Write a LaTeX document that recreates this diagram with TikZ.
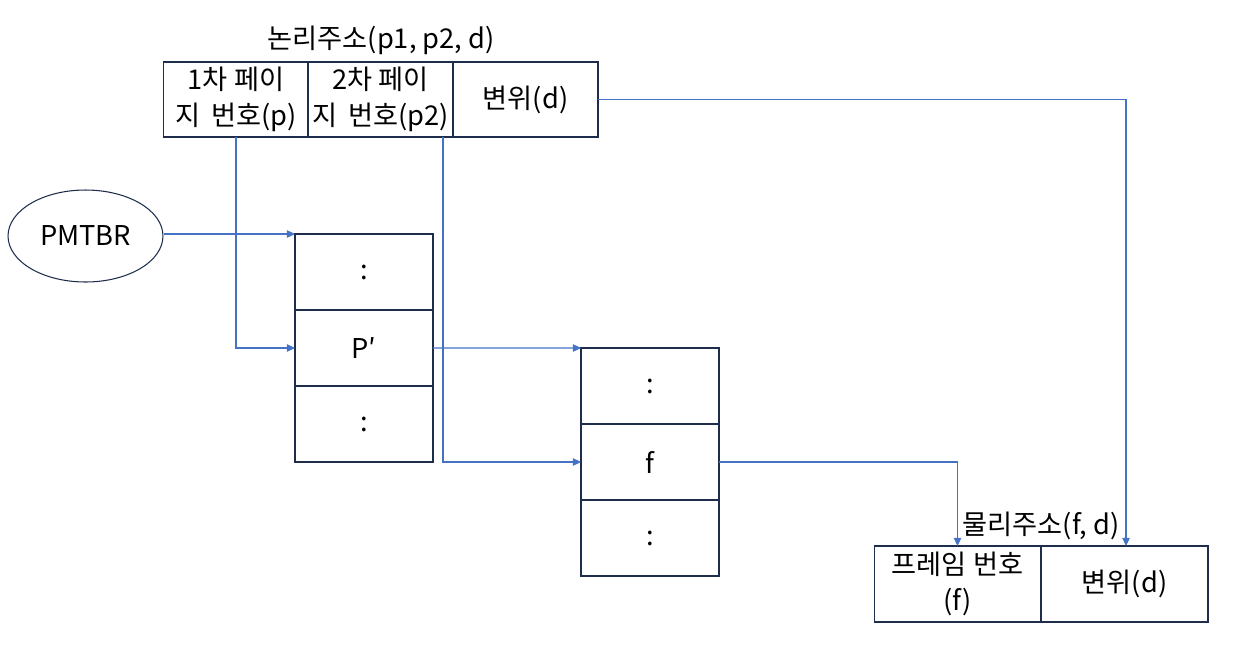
\documentclass[tikz,border=0pt]{standalone}
\usepackage{fontspec}
\setmainfont{Noto Sans CJK KR}
\usetikzlibrary{arrows.meta,shapes.geometric}
\definecolor{boxc}{RGB}{30,45,75}
\definecolor{arrc}{RGB}{68,114,196}
\tikzset{
  cell/.style={draw=boxc,line width=0.6pt,inner sep=0pt,outer sep=0pt,align=center,
    minimum width=#1,minimum height=1.52cm},
  cell/.default=2.76cm,
  arr/.style={draw=arrc,line width=0.6pt,-{Triangle[length=4.6pt,width=4.2pt]}},
  txt/.style={font=\fontsize{15.5}{20.5}\selectfont}
}
\begin{document}
\begin{tikzpicture}[x=0.02cm,y=-0.02cm,every node/.style={txt}]
\useasboundingbox (0,0) rectangle (1246,670);
% logical address
\node[cell=2.9cm,minimum height=1.5cm] (b1) at (236,99.5) {1차 페이\\지\hspace{0.4em}번호(p)};
\node[cell=2.9cm,minimum height=1.5cm] (b2) at (380.5,99.5) {2차 페이\\지\hspace{0.4em}번호(p2)};
\node[cell=2.9cm,minimum height=1.5cm] (b3) at (525.5,99.5) {변위(d)};
\node (lt) at (381,40) {논리주소(p1, p2, d)};
% PMTBR
\node[draw=boxc,line width=0.6pt,ellipse,minimum width=3.1cm,minimum height=1.84cm,inner sep=0pt] (pm) at (85.5,236) {PMTBR};
% table 1
\node[cell] (t1a) at (364,272) {:};
\node[cell] (t1b) at (364,348) {P′};
\node[cell] (t1c) at (364,424) {:};
% table 2
\node[cell] (t2a) at (650,386) {:};
\node[cell] (t2b) at (650,462) {f};
\node[cell] (t2c) at (650,538) {:};
% physical address
\node[cell=3.34cm] (c1) at (957.5,584) {프레임 번호\\(f)};
\node[cell=3.34cm] (c2) at (1124.5,584) {변위(d)};
\node (pt) at (1041,526) {물리주소(f, d)};
% connectors
\draw[arr] (b1.south) |- (t1b.west);
\draw[arr] ([xshift=-0.2cm]b2.south east) |- (t2b.west);
\draw[arr] (b3.east) -| ([xshift=0.03cm]c2.north);
\draw[arr] (pm.east |- t1a.north west) -- (t1a.north west);
\draw[arr] (t1b.east) -- (t2a.north west);
\draw[arr] (t2b.east) -| (c1.north);
\end{tikzpicture}
\end{document}
